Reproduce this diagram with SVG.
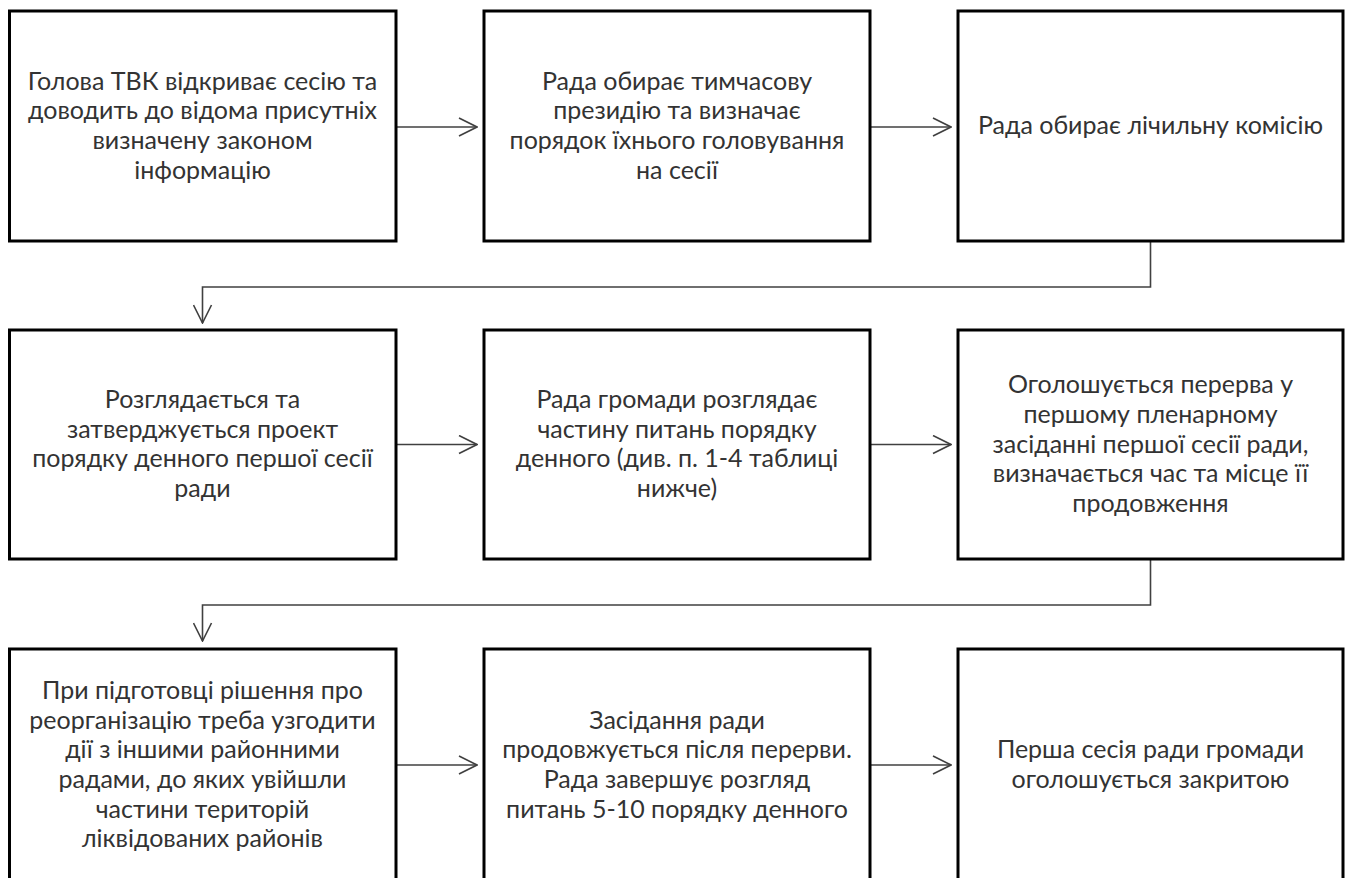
<svg xmlns="http://www.w3.org/2000/svg" width="1349" height="878" viewBox="0 0 1349 878">
<defs>
<marker id="ah" viewBox="0 0 20 20" refX="19" refY="10" markerWidth="20" markerHeight="20" markerUnits="userSpaceOnUse" orient="auto">
<path d="M1,1 L19,10 L1,19" fill="none" stroke="#404040" stroke-width="1.6"/>
</marker>
<style>
.box{fill:#fff;stroke:#000;stroke-width:3}
.t{font-family:Lato,"Liberation Sans",sans-serif;font-size:25px;fill:#333;text-anchor:middle}
.c{fill:none;stroke:#404040;stroke-width:1.6}
</style>
</defs>
<rect width="1349" height="878" fill="#fff"/>
<g id="connectors">
<path class="c" d="M396,127 H477" marker-end="url(#ah)"/>
<path class="c" d="M870,127 H951" marker-end="url(#ah)"/>
<path class="c" d="M1150.5,241 V287 H202.5 V323" marker-end="url(#ah)"/>
<path class="c" d="M396,444.5 H477" marker-end="url(#ah)"/>
<path class="c" d="M870,444.5 H951" marker-end="url(#ah)"/>
<path class="c" d="M1150.5,559 V605 H202.5 V641" marker-end="url(#ah)"/>
<path class="c" d="M396,765 H477" marker-end="url(#ah)"/>
<path class="c" d="M870,765 H951" marker-end="url(#ah)"/>
</g>
<g id="n1"><rect class="box" x="9.5" y="11" width="386.5" height="230"/>
<text class="t"><tspan x="202.5" y="89.5">Голова ТВК відкриває сесію та</tspan><tspan x="202.5" y="119.2">доводить до відома присутніх</tspan><tspan x="202.5" y="148.9">визначену законом</tspan><tspan x="202.5" y="178.6">інформацію</tspan></text></g>
<g id="n2"><rect class="box" x="484" y="11" width="386" height="230"/>
<text class="t"><tspan x="677" y="89.5">Рада обирає тимчасову</tspan><tspan x="677" y="119.2">президію та визначає</tspan><tspan x="677" y="148.9">порядок їхнього головування</tspan><tspan x="677" y="178.6">на сесії</tspan></text></g>
<g id="n3"><rect class="box" x="958" y="11" width="385" height="230"/>
<text class="t"><tspan x="1150.5" y="134">Рада обирає лічильну комісію</tspan></text></g>
<g id="n4"><rect class="box" x="9.5" y="330" width="386.5" height="229"/>
<text class="t"><tspan x="202.5" y="407.9">Розглядається та</tspan><tspan x="202.5" y="437.6">затверджується проект</tspan><tspan x="202.5" y="467.3">порядку денного першої сесії</tspan><tspan x="202.5" y="497">ради</tspan></text></g>
<g id="n5"><rect class="box" x="484" y="330" width="386" height="229"/>
<text class="t"><tspan x="677" y="407.9">Рада громади розглядає</tspan><tspan x="677" y="437.6">частину питань порядку</tspan><tspan x="677" y="467.3">денного (див. п. 1-4 таблиці</tspan><tspan x="677" y="497">нижче)</tspan></text></g>
<g id="n6"><rect class="box" x="958" y="330" width="385" height="229"/>
<text class="t"><tspan x="1150.5" y="393.1">Оголошується перерва у</tspan><tspan x="1150.5" y="422.8">першому пленарному</tspan><tspan x="1150.5" y="452.5">засіданні першої сесії ради,</tspan><tspan x="1150.5" y="482.2">визначається час та місце її</tspan><tspan x="1150.5" y="511.9">продовження</tspan></text></g>
<g id="n7"><rect class="box" x="9.5" y="649" width="386.5" height="232"/>
<text class="t"><tspan x="202.5" y="698.8">При підготовці рішення про</tspan><tspan x="202.5" y="728.5">реорганізацію треба узгодити</tspan><tspan x="202.5" y="758.2">дії з іншими районними</tspan><tspan x="202.5" y="787.9">радами, до яких увійшли</tspan><tspan x="202.5" y="817.6">частини територій</tspan><tspan x="202.5" y="847.3">ліквідованих районів</tspan></text></g>
<g id="n8"><rect class="box" x="484" y="649" width="386" height="232"/>
<text class="t"><tspan x="677" y="728.5">Засідання ради</tspan><tspan x="677" y="758.2">продовжується після перерви.</tspan><tspan x="677" y="787.9">Рада завершує розгляд</tspan><tspan x="677" y="817.6">питань 5-10 порядку денного</tspan></text></g>
<g id="n9"><rect class="box" x="958" y="649" width="385" height="232"/>
<text class="t"><tspan x="1150.5" y="758.2">Перша сесія ради громади</tspan><tspan x="1150.5" y="787.9">оголошується закритою</tspan></text></g>
</svg>
